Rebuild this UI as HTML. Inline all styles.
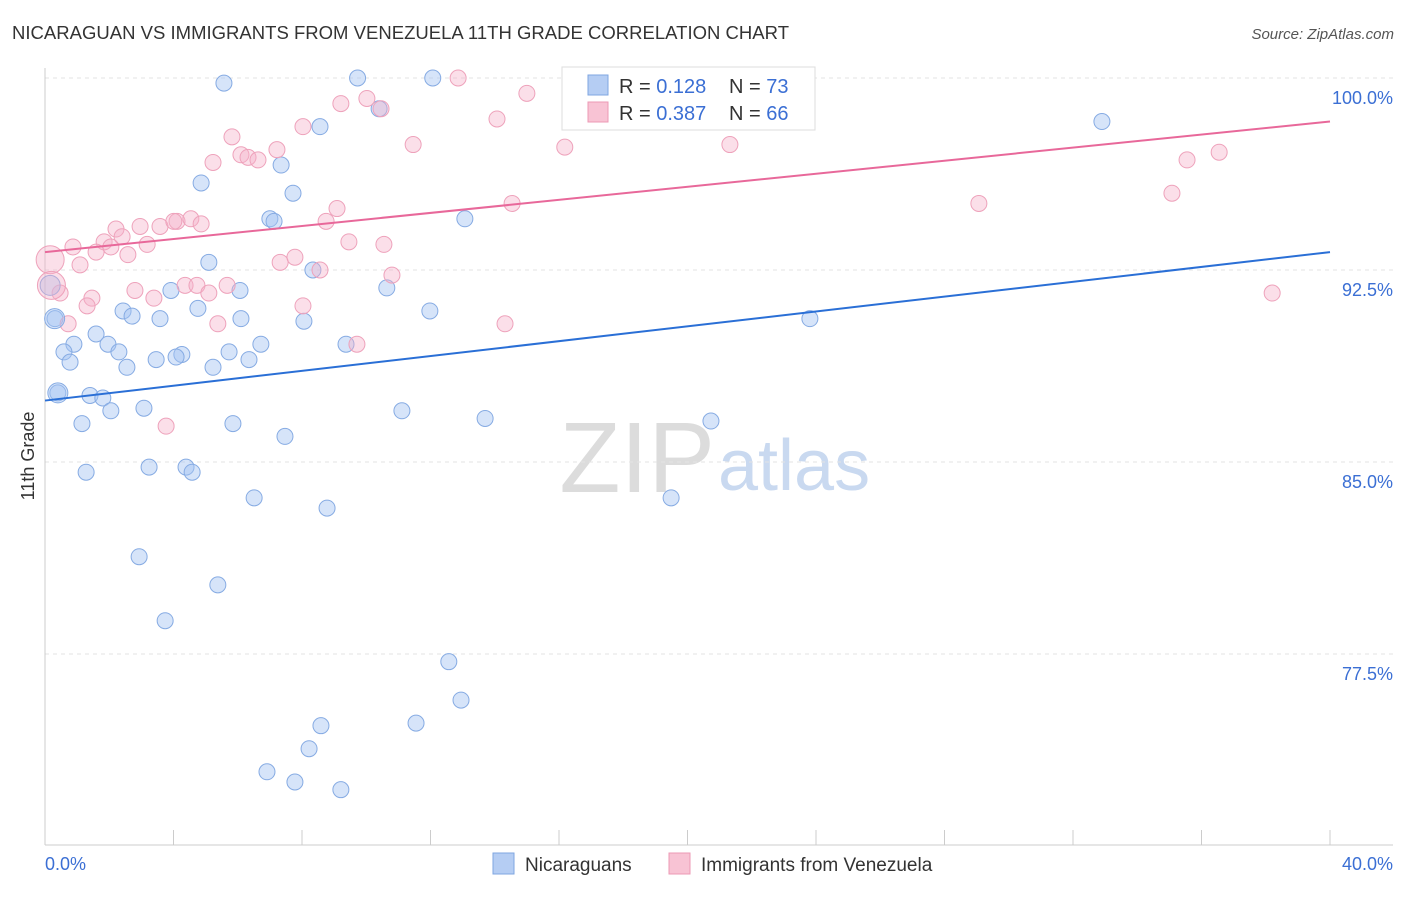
<!DOCTYPE html>
<html><head><meta charset="utf-8"><style>
body{margin:0;background:#fff;font-family:"Liberation Sans",sans-serif;}
svg text{font-family:"Liberation Sans",sans-serif;}
</style></head><body>
<svg id="c" width="1406" height="892" viewBox="0 0 1406 892">
<text x="12" y="39" font-size="18.5" fill="#333" textLength="777">NICARAGUAN VS IMMIGRANTS FROM VENEZUELA 11TH GRADE CORRELATION CHART</text>
<text x="1394" y="39" font-size="15" fill="#555" text-anchor="end" font-style="italic">Source: ZipAtlas.com</text>
<text x="715" y="492" font-size="100" fill="#dcdcdc" text-anchor="end" font-family="Liberation Serif">ZIP</text>
<text x="718" y="490" font-size="72" fill="#c9d9f0">atlas</text>
<g id="grid"></g><g id="axes"></g><g id="pts"></g><g id="lines"></g>
<text transform="translate(34,456) rotate(-90)" font-size="18" fill="#333" text-anchor="middle">11th Grade</text>
<g>
<rect x="562" y="67" width="253" height="63" fill="#fff" stroke="#ddd"/>
<rect x="588" y="75" width="20" height="20" fill="#b5cdf3" stroke="#7fa6e0"/>
<rect x="588" y="102" width="20" height="20" fill="#f8c3d4" stroke="#ec9ab5"/>
<text x="619" y="93" font-size="20" fill="#333">R = <tspan fill="#3b6fd4">0.128</tspan></text>
<text x="729" y="93" font-size="20" fill="#333">N = <tspan fill="#3b6fd4">73</tspan></text>
<text x="619" y="120" font-size="20" fill="#333">R = <tspan fill="#3b6fd4">0.387</tspan></text>
<text x="729" y="120" font-size="20" fill="#333">N = <tspan fill="#3b6fd4">66</tspan></text>
</g>
<g>
<rect x="493" y="853" width="21" height="21" fill="#b5cdf3" stroke="#7fa6e0"/>
<text x="525" y="871" font-size="19" fill="#333">Nicaraguans</text>
<rect x="669" y="853" width="21" height="21" fill="#f8c3d4" stroke="#ec9ab5"/>
<text x="701" y="871" font-size="19" fill="#333">Immigrants from Venezuela</text>
</g>
</svg>
<script>
const yTicks=[100,92.5,85,77.5];
const yTickLabels=["100.0%","92.5%","85.0%","77.5%"];
const xTickLabels=["0.0%","40.0%"];
const blueX=[5.57,9.73,12.07,16.93,21.04,10.4,8.56,32.9,7.35,4.86,7.72,7.0,7.13,13.07,5.1,8.34,10.64,6.07,3.92,4.76,2.43,2.71,3.58,6.1,8.06,11.98,23.81,0.31,1.59,0.9,1.96,0.59,2.3,4.26,5.73,6.72,9.37,3.46,4.08,6.35,0.78,2.55,5.23,0.40,1.40,1.80,2.05,3.08,1.15,5.85,11.11,13.7,20.73,7.47,1.28,3.24,4.39,4.58,6.51,8.78,19.49,2.93,5.38,3.74,12.57,12.95,11.55,8.59,8.22,6.91,7.78,9.21];
const blueY=[99.8,100,100,99.9,99.9,98.8,98.1,98.3,96.6,95.9,95.5,94.5,94.4,94.5,92.8,92.5,91.8,91.7,91.7,91.0,90.9,90.7,90.6,90.6,90.5,90.9,90.6,90.6,90.0,89.6,89.6,89.3,89.3,89.2,89.3,89.6,89.6,89.0,89.1,89.0,88.9,88.7,88.7,87.7,87.6,87.5,87.0,87.1,86.5,86.5,87.0,86.7,86.6,86.0,84.6,84.8,84.8,84.6,83.6,83.2,83.6,81.3,80.2,78.8,77.2,75.7,74.8,74.7,73.8,72.9,72.5,72.2];
const pinkX=[12.86,21.95,15.0,9.21,10.02,10.46,8.03,14.07,5.82,11.46,16.18,21.32,6.1,7.22,6.32,6.63,5.23,35.55,36.55,9.09,14.54,29.07,35.08,2.21,2.96,3.58,4.11,4.54,4.86,4.01,8.75,1.84,2.4,3.18,0.87,1.59,2.05,2.58,9.46,10.55,1.09,7.78,7.32,8.56,10.8,4.36,4.73,5.67,5.1,2.8,3.39,0.47,1.46,1.31,8.03,0.72,5.38,14.32,9.71,3.77,38.2];
const pinkY=[100,99.9,99.4,99.0,99.2,98.8,98.1,98.4,97.7,97.4,97.3,97.4,97.0,97.2,96.9,96.8,96.7,96.8,97.1,94.9,95.1,95.1,95.5,94.1,94.2,94.2,94.4,94.5,94.3,94.4,94.4,93.6,93.8,93.5,93.4,93.2,93.4,93.1,93.6,93.5,92.7,93.0,92.8,92.5,92.3,91.9,91.9,91.9,91.6,91.7,91.4,91.6,91.4,91.1,91.1,90.4,90.4,90.4,89.6,86.4,91.6];
const bigBlue=[[0.16,91.9],[0.3,90.6],[0.4,87.7]];
const bigPink=[[0.16,92.9],[0.2,91.9]];
const blueTrend=[87.4,93.2];
const pinkTrend=[93.2,98.3];
const X0=45,X1=1330,Ytop=78,pxPer=25.6;
const xs=v=>X0+(v/40)*(X1-X0);
const ys=v=>Ytop+(100-v)*pxPer;
const NS="http://www.w3.org/2000/svg";
function mk(tag,attrs,parent){const e=document.createElementNS(NS,tag);for(const k in attrs)e.setAttribute(k,attrs[k]);document.getElementById(parent).appendChild(e);return e;}
yTicks.forEach((t,i)=>{
 const g=mk('line',{x1:45,x2:1393,y1:ys(t),y2:ys(t),stroke:'#e3e3e3','stroke-dasharray':'4,4'},'grid');
 
 
 const l=mk('text',{x:1393,y:ys(t)+26,'font-size':18,fill:'#3b6fd4','text-anchor':'end'},'grid');
 l.textContent=yTickLabels[i];
 
 
});
const ax=mk('line',{x1:45,x2:1393,y1:845,y2:845,stroke:'#ccc'},'axes');


const ay=mk('line',{x1:45,x2:45,y1:68,y2:845,stroke:'#ccc'},'axes');


for(let i=0;i<=10;i++){const t=mk('line',{x1:xs(i*4),x2:xs(i*4),y1:830,y2:845,stroke:'#ccc'},'axes');
 
 }
const xl0=mk('text',{x:45,y:870,'font-size':18,fill:'#3b6fd4'},'axes');xl0.textContent=xTickLabels[0];


const xl1=mk('text',{x:1393,y:870,'font-size':18,fill:'#3b6fd4','text-anchor':'end'},'axes');xl1.textContent=xTickLabels[1];


function dot(x,y,r,blue){const c=mk('circle',{cx:xs(x),cy:ys(y),r:r,fill:blue?'rgba(165,195,242,0.45)':'rgba(246,175,200,0.4)',stroke:blue?'#86abe3':'#eea2bb','stroke-width':1},'pts');return c;}
blueX.forEach((x,i)=>{const c=dot(x,blueY[i],8,true);
 
 });
pinkX.forEach((x,i)=>{const c=dot(x,pinkY[i],8,false);
 
 });
bigBlue.forEach(p=>{const c=dot(p[0],p[1],10,true);
 
 });
bigPink.forEach(p=>{const c=dot(p[0],p[1],14,false);
 
 });
const bl=mk('line',{x1:xs(0),y1:ys(blueTrend[0]),x2:xs(40),y2:ys(blueTrend[1]),stroke:'#2a6fd6','stroke-width':2},'lines');


const pl=mk('line',{x1:xs(0),y1:ys(pinkTrend[0]),x2:xs(40),y2:ys(pinkTrend[1]),stroke:'#e8689a','stroke-width':2},'lines');


</script>
</body></html>
